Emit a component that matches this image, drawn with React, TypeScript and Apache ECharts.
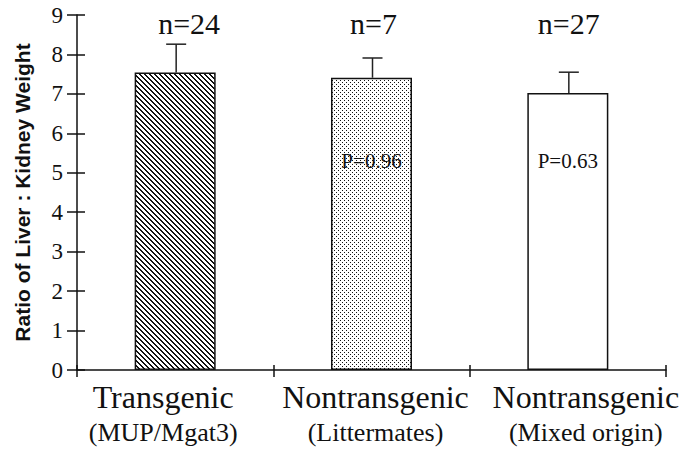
import React, { useEffect, useRef } from "react";
import * as echarts from "echarts";

const categories = ["Transgenic", "Nontransgenic", "Nontransgenic"];
const subLabels = ["(MUP/Mgat3)", "(Littermates)", "(Mixed origin)"];
const means = [7.54, 7.41, 7.02];
const upper = [8.26, 7.91, 7.55];
const nLabels = ["n=24", "n=7", "n=27"];
const pLabels = ["", "P=0.96", "P=0.63"];
const yTicks = [0, 1, 2, 3, 4, 5, 6, 7, 8, 9];

// layout offsets (px) for annotation text
const nLabelDx = [14, 2, 1];
const catLabelPad = [
  [0, 24, 0, 0],
  [0, 0, 0, 8],
  [0, 0, 0, 36],
];

const SERIF = "'Liberation Serif', 'Times New Roman', serif";
const SANS = "'Liberation Sans', Arial, sans-serif";
const INK = "#111";

function makeTile(kind: "hatch" | "dots"): HTMLCanvasElement {
  const c = document.createElement("canvas");
  const size = kind === "hatch" ? 5 : 4;
  c.width = size;
  c.height = size;
  const ctx = c.getContext("2d")!;
  ctx.fillStyle = "#fff";
  ctx.fillRect(0, 0, size, size);
  ctx.fillStyle = INK;
  for (let x = 0; x < size; x++) {
    for (let y = 0; y < size; y++) {
      if (kind === "hatch") {
        const d = (((x - y) % size) + size) % size;
        if (d === 0 || d === 1) ctx.fillRect(x, y, 1, 1);
      } else {
        if ((x === 0 && y === 0) || (x === 2 && y === 2)) ctx.fillRect(x, y, 1, 1);
      }
    }
  }
  return c;
}

export default function App() {
  const ref = useRef<HTMLDivElement>(null);
  useEffect(() => {
    if (!ref.current) return;
    const chart = echarts.init(ref.current, undefined, { renderer: "svg" });
    const hatch = makeTile("hatch");
    const dots = makeTile("dots");
    const fills: any[] = [
      { image: hatch, repeat: "repeat", imageWidth: 5, imageHeight: 5 },
      { image: dots, repeat: "repeat", imageWidth: 4, imageHeight: 4 },
      "#ffffff",
    ];
    const catData = categories.map((c, i) => ({
      value: `${c}\n${subLabels[i]}`,
      textStyle: { padding: catLabelPad[i] },
    }));
    const yMin = yTicks[0];
    const yMax = yTicks[yTicks.length - 1];
    const option: any = {
      animation: false,
      backgroundColor: "#fff",
      grid: {
        left: 77,
        right: 13,
        top: 15,
        bottom: 86,
        containLabel: false,
        outerBoundsMode: "none",
      },
      xAxis: [
        {
          type: "category",
          position: "bottom",
          data: catData,
          boundaryGap: true,
          axisLine: { show: true, lineStyle: { color: INK, width: 1.5 } },
          axisTick: { show: true, inside: false, length: 7, lineStyle: { color: INK, width: 1.5 } },
          axisLabel: {
            interval: 0,
            margin: 9,
            color: INK,
            fontFamily: SERIF,
            formatter: (v: string) => {
              const [a, b] = v.split("\n");
              return `{a|${a}}\n{b|${b}}`;
            },
            rich: {
              a: { fontSize: 32, fontFamily: SERIF, color: INK, lineHeight: 36 },
              b: { fontSize: 26, fontFamily: SERIF, color: INK, lineHeight: 34 },
            },
          },
          splitLine: { show: false },
        },
        {
          type: "category",
          position: "bottom",
          data: catData,
          boundaryGap: true,
          axisLine: { show: false },
          axisTick: { show: true, inside: true, length: 5, lineStyle: { color: INK, width: 1.5 } },
          axisLabel: { show: false },
          splitLine: { show: false },
        },
      ],
      yAxis: [
        {
          type: "value",
          position: "left",
          min: yMin,
          max: yMax,
          interval: 1,
          axisLine: { show: true, lineStyle: { color: INK, width: 1.5 } },
          axisTick: { show: true, inside: false, length: 10, lineStyle: { color: INK, width: 1.5 } },
          axisLabel: {
            margin: 14,
            fontSize: 23,
            fontFamily: SERIF,
            color: INK,
            formatter: (v: number) => `{v|${v}}`,
            rich: { v: { fontSize: 23, fontFamily: SERIF, color: INK } },
          },
          splitLine: { show: false },
          name: "Ratio of Liver : Kidney Weight",
          nameLocation: "middle",
          nameGap: 44,
          nameMoveOverlap: false,
          nameTextStyle: { fontSize: 21, fontWeight: "bold", fontFamily: SANS, color: INK },
        },
        {
          type: "value",
          position: "left",
          min: yMin,
          max: yMax,
          interval: 1,
          axisLine: { show: false },
          axisTick: { show: true, inside: true, length: 8, lineStyle: { color: INK, width: 1.5 } },
          axisLabel: { show: false },
          splitLine: { show: false },
        },
      ],
      series: [
        {
          type: "bar",
          xAxisIndex: 0,
          yAxisIndex: 0,
          barWidth: 81,
          data: means.map((m, i) => ({
            value: m,
            itemStyle: { color: fills[i], borderColor: INK, borderWidth: 1.5 },
          })),
        },
        {
          type: "custom",
          xAxisIndex: 0,
          yAxisIndex: 0,
          z: 5,
          data: means.map((m, i) => [i, m, upper[i]]),
          renderItem: (params: any, api: any) => {
            const i = api.value(0);
            const p0 = api.coord([i, api.value(1)]);
            const p1 = api.coord([i, api.value(2)]);
            const top = api.coord([i, yMax]);
            const pPos = api.coord([i, 5.3]);
            const children: any[] = [
              {
                type: "line",
                shape: { x1: p0[0] + 1, y1: p0[1], x2: p1[0] + 1, y2: p1[1] },
                style: { stroke: "#222", lineWidth: 1.5 },
              },
              {
                type: "line",
                shape: { x1: p1[0] - 9, y1: p1[1], x2: p1[0] + 11, y2: p1[1] },
                style: { stroke: "#222", lineWidth: 1.5 },
              },
              {
                type: "text",
                style: {
                  x: p0[0] + nLabelDx[i],
                  y: top[1] + 8,
                  text: nLabels[i],
                  fontSize: 30,
                  fontFamily: SERIF,
                  fill: INK,
                  align: "center",
                  verticalAlign: "middle",
                },
              },
            ];
            if (pLabels[i]) {
              children.push({
                type: "text",
                style: {
                  x: pPos[0],
                  y: pPos[1],
                  text: pLabels[i],
                  fontSize: 21,
                  fontFamily: SERIF,
                  fill: INK,
                  align: "center",
                  verticalAlign: "middle",
                },
              });
            }
            return { type: "group", children };
          },
        },
      ],
    };
    chart.setOption(option);
    return () => chart.dispose();
  }, []);
  return (
    <div
      ref={ref}
      style={{ position: "absolute", left: 0, top: 0, width: 679, height: 456 }}
    />
  );
}
